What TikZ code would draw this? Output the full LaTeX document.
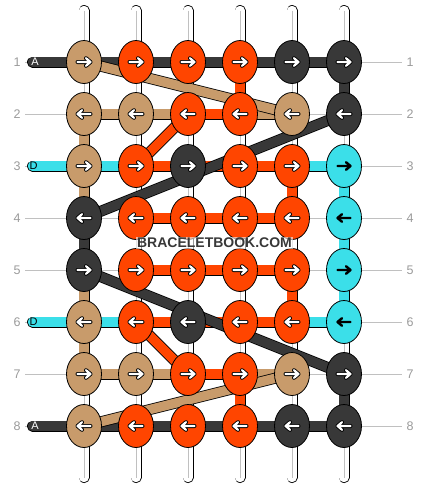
\documentclass[tikz,border=0pt]{standalone}
\usepackage{fontspec}
\setmainfont{Liberation Sans}
\usepackage{tikz}
\usetikzlibrary{shapes}
\usetikzlibrary{backgrounds}

\definecolor{tanc}{HTML}{C89B6B}
\definecolor{redc}{HTML}{FF4500}
\definecolor{darkc}{HTML}{383838}
\definecolor{cyanc}{HTML}{3BDFE9}
\definecolor{labelc}{HTML}{9A9A9A}
\definecolor{linec}{HTML}{C0C0C0}

\tikzset{
  knot/.style={ellipse, draw=black, line width=0.8pt, minimum width=35pt, minimum height=43pt, inner sep=0pt},
  tanknot/.style={knot, fill=tanc},
  redknot/.style={knot, fill=redc},
  darkknot/.style={knot, fill=darkc},
  cyanknot/.style={knot, fill=cyanc},
  arrowout/.style={black, line width=4pt, line cap=round, line join=round},
  arrowin/.style={white, line width=2.2pt, line cap=round, line join=round},
  arrowblk/.style={black, line width=2.4pt, line cap=round, line join=round},
  goright/.style={path picture={
    \draw[arrowout, shift={(path picture bounding box.center)}] (-6.5,0) -- (6.5,0) (2,-3.8) -- (6.5,0) -- (2,3.8);
    \draw[arrowin, shift={(path picture bounding box.center)}] (-6.5,0) -- (6.5,0) (2,-3.8) -- (6.5,0) -- (2,3.8);}},
  goleft/.style={path picture={
    \draw[arrowout, shift={(path picture bounding box.center)}] (6.5,0) -- (-6.5,0) (-2,-3.8) -- (-6.5,0) -- (-2,3.8);
    \draw[arrowin, shift={(path picture bounding box.center)}] (6.5,0) -- (-6.5,0) (-2,-3.8) -- (-6.5,0) -- (-2,3.8);}},
  gorightblk/.style={path picture={
    \draw[arrowblk, shift={(path picture bounding box.center)}] (-6.5,0) -- (6.5,0) (2,-3.8) -- (6.5,0) -- (2,3.8);}},
  goleftblk/.style={path picture={
    \draw[arrowblk, shift={(path picture bounding box.center)}] (6.5,0) -- (-6.5,0) (-2,-3.8) -- (-6.5,0) -- (-2,3.8);}},
  str/.style={draw=black, line width=0.8pt, double distance=9.4pt},
  tanstr/.style={str, double=tanc},
  redstr/.style={str, double=redc},
  darkstr/.style={str, double=darkc},
  cyanstr/.style={str, double=cyanc},
  whitestr/.style={str, double=white, line cap=round},
  midline/.style={draw=linec, line width=0.6pt},
  rowline/.style={draw=linec, line width=0.8pt},
  numlbl/.style={text=labelc, font=\fontsize{12.5}{13}\selectfont, inner sep=4.5pt},
  strlbl/.style={font=\fontsize{11}{11}\selectfont, inner sep=0pt},
  watermark/.style={font=\fontsize{14}{14}\selectfont\bfseries, text=darkc, fill=white, fill opacity=0.6, text opacity=1, inner sep=1.5pt}
}

\begin{document}
\begin{tikzpicture}[x=1pt, y=-1pt]
  \useasboundingbox (0,0) rectangle (428,488);

  % row numbers
  \node[numlbl] (n1l) at (17,62) {1};
  \node[numlbl] (n2l) at (17,114) {2};
  \node[numlbl] (n3l) at (17,166) {3};
  \node[numlbl] (n4l) at (17,218) {4};
  \node[numlbl] (n5l) at (17,270) {5};
  \node[numlbl] (n6l) at (17,322) {6};
  \node[numlbl] (n7l) at (17,374) {7};
  \node[numlbl] (n8l) at (17,426) {8};
  \node[numlbl] (n1r) at (410,62) {1};
  \node[numlbl] (n2r) at (410,114) {2};
  \node[numlbl] (n3r) at (410,166) {3};
  \node[numlbl] (n4r) at (410,218) {4};
  \node[numlbl] (n5r) at (410,270) {5};
  \node[numlbl] (n6r) at (410,322) {6};
  \node[numlbl] (n7r) at (410,374) {7};
  \node[numlbl] (n8r) at (410,426) {8};

  % string ends
  \coordinate (s1) at (32.5,62);
  \coordinate (s3) at (32.5,166);
  \coordinate (s6) at (32.5,322);
  \coordinate (s8) at (32.5,426);
  \coordinate (t1) at (84,10.5);   \coordinate (b1) at (84,477.5);
  \coordinate (t2) at (136,10.5);  \coordinate (b2) at (136,477.5);
  \coordinate (t3) at (188,10.5);  \coordinate (b3) at (188,477.5);
  \coordinate (t4) at (240,10.5);  \coordinate (b4) at (240,477.5);
  \coordinate (t5) at (292,10.5);  \coordinate (b5) at (292,477.5);
  \coordinate (t6) at (344,10.5);  \coordinate (b6) at (344,477.5);

  % knots
  \node[tanknot, goright] (k11) at (84,62) {};
  \node[redknot, goright] (k12) at (136,62) {};
  \node[redknot, goright] (k13) at (188,62) {};
  \node[redknot, goright] (k14) at (240,62) {};
  \node[darkknot, goright] (k15) at (292,62) {};
  \node[darkknot, goright] (k16) at (344,62) {};

  \node[tanknot, goleft] (k21) at (84,114) {};
  \node[tanknot, goleft] (k22) at (136,114) {};
  \node[redknot, goleft] (k23) at (188,114) {};
  \node[redknot, goleft] (k24) at (240,114) {};
  \node[tanknot, goleft] (k25) at (292,114) {};
  \node[darkknot, goleft] (k26) at (344,114) {};

  \node[tanknot, goright] (k31) at (84,166) {};
  \node[redknot, goright] (k32) at (136,166) {};
  \node[darkknot, goright] (k33) at (188,166) {};
  \node[redknot, goright] (k34) at (240,166) {};
  \node[redknot, goright] (k35) at (292,166) {};
  \node[cyanknot, gorightblk] (k36) at (344,166) {};

  \node[darkknot, goleft] (k41) at (84,218) {};
  \node[redknot, goleft] (k42) at (136,218) {};
  \node[redknot, goleft] (k43) at (188,218) {};
  \node[redknot, goleft] (k44) at (240,218) {};
  \node[redknot, goleft] (k45) at (292,218) {};
  \node[cyanknot, goleftblk] (k46) at (344,218) {};

  \node[darkknot, goright] (k51) at (84,270) {};
  \node[redknot, goright] (k52) at (136,270) {};
  \node[redknot, goright] (k53) at (188,270) {};
  \node[redknot, goright] (k54) at (240,270) {};
  \node[redknot, goright] (k55) at (292,270) {};
  \node[cyanknot, gorightblk] (k56) at (344,270) {};

  \node[tanknot, goleft] (k61) at (84,322) {};
  \node[redknot, goleft] (k62) at (136,322) {};
  \node[darkknot, goleft] (k63) at (188,322) {};
  \node[redknot, goleft] (k64) at (240,322) {};
  \node[redknot, goleft] (k65) at (292,322) {};
  \node[cyanknot, goleftblk] (k66) at (344,322) {};

  \node[tanknot, goright] (k71) at (84,374) {};
  \node[tanknot, goright] (k72) at (136,374) {};
  \node[redknot, goright] (k73) at (188,374) {};
  \node[redknot, goright] (k74) at (240,374) {};
  \node[tanknot, goright] (k75) at (292,374) {};
  \node[darkknot, goright] (k76) at (344,374) {};

  \node[tanknot, goleft] (k81) at (84,426) {};
  \node[redknot, goleft] (k82) at (136,426) {};
  \node[redknot, goleft] (k83) at (188,426) {};
  \node[redknot, goleft] (k84) at (240,426) {};
  \node[darkknot, goleft] (k85) at (292,426) {};
  \node[darkknot, goleft] (k86) at (344,426) {};

  \begin{pgfonlayer}{background}
    % guide lines
    \draw[rowline] (n1l) -- (n1r);
    \draw[rowline] (n2l) -- (n2r);
    \draw[rowline] (n3l) -- (n3r);
    \draw[rowline] (n4l) -- (n4r);
    \draw[rowline] (n5l) -- (n5r);
    \draw[rowline] (n6l) -- (n6r);
    \draw[rowline] (n7l) -- (n7r);
    \draw[rowline] (n8l) -- (n8r);

    % white strings
    \draw[whitestr] (t1) -- (b1);  \draw[midline] (t1) -- (b1);
    \draw[whitestr] (t2) -- (b2);  \draw[midline] (t2) -- (b2);
    \draw[whitestr] (t3) -- (b3);  \draw[midline] (t3) -- (b3);
    \draw[whitestr] (t4) -- (b4);  \draw[midline] (t4) -- (b4);
    \draw[whitestr] (t5) -- (b5);  \draw[midline] (t5) -- (b5);
    \draw[whitestr] (t6) -- (b6);  \draw[midline] (t6) -- (b6);

    % rows
    \draw[darkstr, line cap=round] (s1) -- (k11.center);
    \draw[darkstr] (k11.center) -- (k16.center);
    \draw[tanstr] (k21.center) -- (k23.center);
    \draw[redstr] (k23.center) -- (k24.center);
    \draw[tanstr] (k24.center) -- (k25.center);
    \draw[cyanstr, line cap=round] (s3) -- (k31.center);
    \draw[cyanstr] (k31.center) -- (k32.center);
    \draw[redstr] (k32.center) -- (k35.center);
    \draw[cyanstr] (k35.center) -- (k36.center);
    \draw[redstr] (k42.center) -- (k45.center);
    \draw[redstr] (k52.center) -- (k55.center);
    \draw[cyanstr, line cap=round] (s6) -- (k61.center);
    \draw[cyanstr] (k61.center) -- (k62.center);
    \draw[redstr] (k62.center) -- (k65.center);
    \draw[cyanstr] (k65.center) -- (k66.center);
    \draw[tanstr] (k71.center) -- (k73.center);
    \draw[redstr] (k73.center) -- (k74.center);
    \draw[tanstr] (k74.center) -- (k75.center);
    \draw[darkstr, line cap=round] (s8) -- (k81.center);
    \draw[darkstr] (k81.center) -- (k86.center);

    % columns
    \draw[tanstr] (k21.center) -- (k41.center);
    \draw[darkstr] (k41.center) -- (k51.center);
    \draw[tanstr] (k51.center) -- (k71.center);
    \draw[redstr] (k14.center) -- (k24.center);
    \draw[redstr] (k74.center) -- (k84.center);
    \draw[redstr] (k35.center) -- (k45.center);
    \draw[redstr] (k55.center) -- (k65.center);
    \draw[darkstr] (k16.center) -- (k26.center);
    \draw[cyanstr] (k36.center) -- (k66.center);
    \draw[darkstr] (k76.center) -- (k86.center);

    % crossings
    \draw[tanstr] (k11.center) -- (k25.center);
    \draw[redstr] (k32.center) -- (k23.center);
    \draw[darkstr] (k41.center) -- (k26.center);
    \draw[darkstr] (k51.center) -- (k76.center);
    \draw[redstr] (k62.center) -- (k73.center);
    \draw[tanstr] (k81.center) -- (k75.center);
  \end{pgfonlayer}

  % string labels
  \node[strlbl, text=white] (a1) at (35,62) {A};
  \node[strlbl, text=black] (d3) at (33.5,166) {D};
  \node[strlbl, text=black] (d6) at (33.5,322) {D};
  \node[strlbl, text=white] (a8) at (35,426) {A};

  \node[watermark] (wm) at (214.5,243) {BRACELETBOOK.COM};
\end{tikzpicture}
\end{document}
